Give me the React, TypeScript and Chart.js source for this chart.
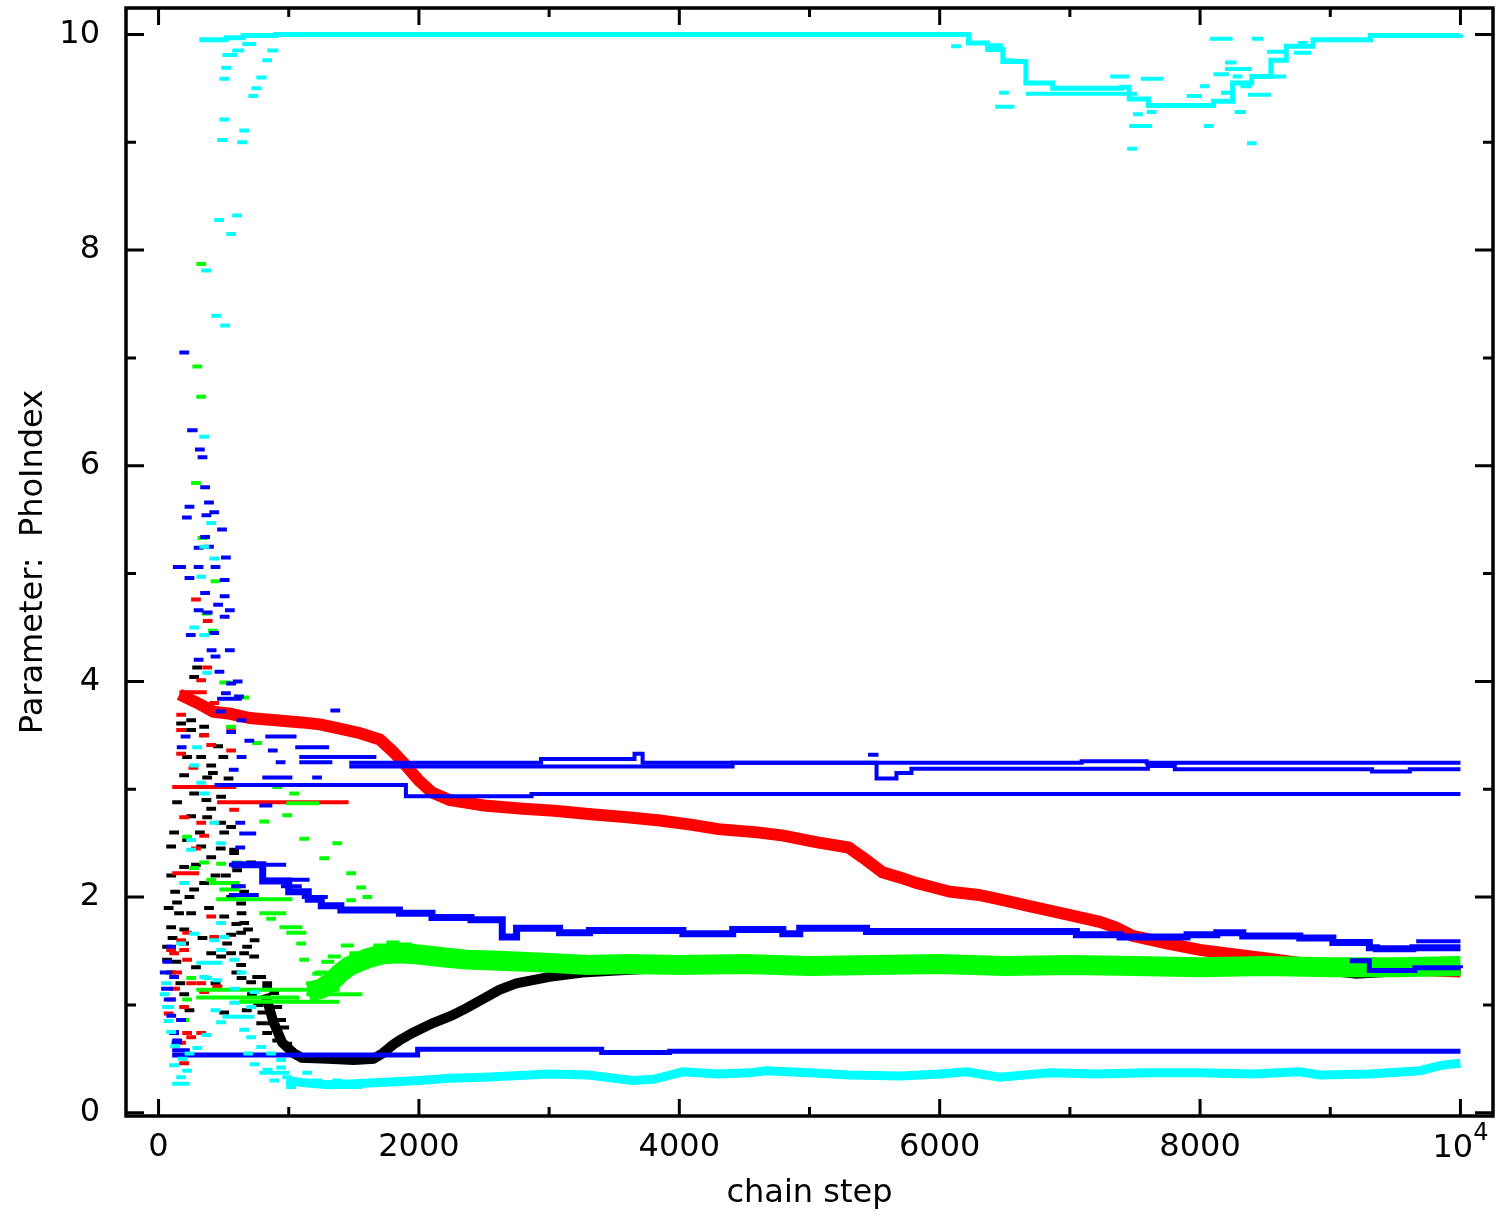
import { useEffect, useRef } from 'react';
import { Chart, registerables } from 'chart.js';

Chart.register(...registerables);

// ---- axes ----
const X_MIN = -250;
const X_MAX = 10250;
const Y_MIN = -0.03;
const Y_MAX = 10.245;
const xMajorTicks = [0, 2000, 4000, 6000, 8000, 10000];
const xMinorTicks = [1000, 3000, 5000, 7000, 9000];
const yMajorTicks = [0, 2, 4, 6, 8, 10];
const yMinorTicks = [1, 3, 5, 7, 9];
const xTitle = 'chain step';
const yTitle = 'Parameter:  PhoIndex';

// ---- main chain traces: [step, value] ----
const redChain: [number, number][] = [
  [160, 3.88], [300, 3.8], [420, 3.72], [550, 3.7], [700, 3.66], [900, 3.64], [1100, 3.62], [1250, 3.6],
  [1400, 3.56], [1550, 3.52], [1700, 3.46], [1800, 3.35], [1900, 3.22], [2000, 3.08], [2100, 2.97],
  [2234, 2.9], [2500, 2.85], [2800, 2.82], [3040, 2.8], [3300, 2.77], [3600, 2.74], [3851, 2.71],
  [4100, 2.67], [4300, 2.63], [4600, 2.6], [4800, 2.57], [5050, 2.51], [5300, 2.46], [5440, 2.34],
  [5560, 2.23], [5700, 2.18], [5823, 2.13], [6077, 2.05], [6300, 2.02], [6461, 1.98], [6715, 1.91],
  [6975, 1.84], [7229, 1.77], [7350, 1.72], [7482, 1.64], [7744, 1.57], [7997, 1.51], [8251, 1.47],
  [8512, 1.43], [8766, 1.39], [9150, 1.36], [9534, 1.33], [10000, 1.31],
];
const blackChain: [number, number][] = [
  [820, 1.1], [880, 0.85], [950, 0.65], [1040, 0.55], [1100, 0.51], [1300, 0.5], [1500, 0.49],
  [1650, 0.5], [1720, 0.55], [1800, 0.63], [1849, 0.67], [1950, 0.74], [2103, 0.83], [2250, 0.9],
  [2365, 0.97], [2500, 1.06], [2618, 1.14], [2749, 1.2], [3002, 1.26], [3255, 1.3], [3516, 1.32],
  [4000, 1.35], [4500, 1.34], [5000, 1.35], [5500, 1.33], [6000, 1.35], [6500, 1.36], [7000, 1.34],
  [7500, 1.35], [8000, 1.34], [8500, 1.33], [8900, 1.33], [9200, 1.29], [9500, 1.31], [10000, 1.32],
];
const greenChain: [number, number][] = [
  [1150, 1.12], [1250, 1.15], [1330, 1.22], [1400, 1.3], [1465, 1.36], [1600, 1.43], [1719, 1.47],
  [1850, 1.48], [1980, 1.47], [2200, 1.44], [2365, 1.42], [2618, 1.41], [3000, 1.39], [3300, 1.37],
  [3600, 1.38], [4000, 1.37], [4500, 1.38], [5000, 1.36], [5500, 1.37], [6000, 1.38], [6500, 1.36],
  [7000, 1.37], [7500, 1.36], [8000, 1.35], [8500, 1.36], [9000, 1.35], [9500, 1.35], [10000, 1.36],
];
const cyanLowChain: [number, number][] = [
  [980, 0.3], [1100, 0.28], [1300, 0.26], [1500, 0.27], [1700, 0.28], [2000, 0.3], [2234, 0.32],
  [2500, 0.33], [3000, 0.36], [3300, 0.35], [3640, 0.3], [3800, 0.31], [4027, 0.38], [4300, 0.36],
  [4540, 0.37], [4670, 0.39], [5000, 0.37], [5308, 0.35], [5700, 0.34], [6000, 0.36], [6206, 0.38],
  [6461, 0.33], [6845, 0.37], [7200, 0.36], [7600, 0.37], [7997, 0.37], [8400, 0.36], [8766, 0.38],
  [8920, 0.35], [9300, 0.36], [9688, 0.39], [9850, 0.44], [10000, 0.46],
];
const cyanTopChain: [number, number][] = [
  [313, 9.95], [520, 9.97], [650, 9.99], [900, 10.0], [6103, 10.0], [6221, 9.92], [6368, 9.86],
  [6485, 9.75], [6662, 9.55], [6868, 9.5], [7162, 9.5], [7397, 9.51], [7456, 9.4], [7603, 9.34],
  [7897, 9.34], [8103, 9.38], [8250, 9.55], [8397, 9.61], [8544, 9.76], [8662, 9.89], [8868, 9.95],
  [9309, 9.99], [10000, 10.0],
];
const blueTopChain: [number, number][] = [
  [1465, 3.245], [2938, 3.28], [3656, 3.33], [3718, 3.245], [7090, 3.26], [7590, 3.245], [10000, 3.245],
];
const blueSecondChain: [number, number][] = [
  [1465, 3.21], [4409, 3.245], [5515, 3.1], [5668, 3.15], [5783, 3.19], [7599, 3.215], [7806, 3.185],
  [9321, 3.165], [9611, 3.185], [10000, 3.185],
];
const blueMidChain: [number, number][] = [
  [430, 3.04], [1900, 2.935], [2865, 2.955], [10000, 2.955],
];
const blueDescChain: [number, number][] = [
  [560, 2.3], [800, 2.15], [1000, 2.05], [1150, 1.98], [1250, 1.92], [1400, 1.88], [1850, 1.85],
  [2100, 1.81], [2400, 1.79], [2640, 1.63], [2750, 1.71], [3080, 1.67], [3310, 1.69], [4027, 1.66],
  [4410, 1.7], [4795, 1.66], [4925, 1.71], [5438, 1.68], [7050, 1.65], [7385, 1.63], [7900, 1.65],
  [8128, 1.67], [8328, 1.64], [8766, 1.62], [9020, 1.58], [9300, 1.53], [9355, 1.52], [9635, 1.53],
  [10000, 1.53],
];
const blueUpperEndChain: [number, number][] = [[9660, 1.59], [10000, 1.59]];
const blueLowerEndChain: [number, number][] = [[9150, 1.41], [9300, 1.32], [9650, 1.345], [10000, 1.34]];
const blueBottomChain: [number, number][] = [
  [105, 0.535], [1990, 0.59], [3404, 0.56], [3926, 0.57], [10000, 0.57],
];

// ---- burn-in marks: [fromStep, toStep, value] ----
const blackMarks: [number, number, number][] = [
  [236, 290, 4.04], [136, 190, 3.61], [213, 260, 3.55], [213, 260, 3.64], [313, 360, 3.5], [313, 360, 3.58],
  [259, 310, 4.13], [290, 340, 3.3], [182, 230, 3.3], [367, 420, 3.22], [336, 380, 3.11], [159, 210, 3.13],
  [413, 460, 3.02], [236, 280, 2.96], [105, 150, 2.88], [443, 490, 2.93], [367, 410, 2.82], [213, 260, 2.75],
  [336, 380, 2.74], [443, 490, 2.69], [467, 510, 2.6], [82, 130, 2.6], [520, 570, 2.65], [182, 230, 2.53],
  [290, 340, 2.47], [59, 110, 2.47], [543, 600, 2.44], [367, 410, 2.37], [543, 590, 2.41], [674, 730, 2.32],
  [159, 210, 2.28], [566, 620, 2.25], [236, 280, 2.07], [313, 360, 2.13], [560, 610, 2.1], [597, 650, 1.94],
  [105, 150, 1.95], [213, 260, 1.85], [600, 650, 1.85], [620, 670, 1.76], [467, 510, 1.82], [59, 110, 1.72],
  [159, 210, 1.57], [490, 540, 1.57], [597, 650, 1.67], [28, 80, 1.54], [59, 110, 1.3], [28, 80, 1.42],
  [520, 570, 1.48], [620, 670, 1.48], [597, 650, 1.37], [643, 690, 1.54], [697, 750, 1.45], [720, 770, 1.26],
  [751, 800, 1.26], [797, 850, 1.2], [797, 850, 1.17], [674, 730, 1.21], [443, 490, 1.45], [367, 440, 1.48],
  [400, 450, 1.2], [467, 510, 0.93], [851, 900, 1.11], [874, 920, 0.98], [751, 800, 0.83], [827, 880, 0.83],
  [797, 850, 0.74], [874, 920, 0.67], [904, 950, 0.86], [928, 970, 0.79], [951, 1000, 0.64], [981, 1030, 0.58],
  [60, 120, 2.2], [90, 150, 2.05], [120, 180, 1.85], [160, 220, 1.7], [200, 260, 2.0], [250, 300, 2.3],
  [280, 330, 2.6], [330, 390, 2.9], [380, 430, 3.15], [420, 470, 3.4], [460, 510, 3.3], [500, 550, 3.1],
  [440, 500, 2.45], [480, 530, 2.2], [520, 570, 2.0], [560, 610, 1.75], [520, 560, 1.65], [40, 90, 1.9],
  [70, 120, 1.62], [100, 150, 1.4], [130, 180, 1.2], [160, 220, 1.1], [200, 250, 0.95], [250, 300, 1.35],
  [300, 350, 1.62], [350, 400, 1.9], [400, 450, 2.2], [620, 670, 2.05], [650, 700, 1.7], [700, 750, 1.6],
  [680, 730, 1.1], [730, 780, 1.0], [760, 810, 0.93], [600, 650, 1.25], [560, 600, 1.3], [640, 690, 0.95],
];
const redMarks: [number, number, number][] = [
  [160, 370, 3.9], [290, 340, 4.01], [336, 390, 4.13], [250, 300, 4.76], [340, 390, 4.56], [390, 450, 3.8],
  [490, 550, 3.73], [136, 190, 3.69], [136, 180, 3.55], [520, 570, 3.57], [313, 370, 3.5], [367, 410, 3.41],
  [136, 190, 3.33], [520, 570, 3.36], [105, 597, 3.02], [450, 1460, 2.88], [543, 590, 2.81], [159, 210, 2.74],
  [290, 350, 2.69], [313, 360, 2.57], [105, 313, 2.22], [136, 190, 1.6], [367, 410, 1.82], [182, 230, 1.67],
  [390, 440, 1.63], [59, 110, 1.51], [159, 210, 1.51], [82, 130, 1.48], [182, 230, 1.42], [105, 150, 1.3],
  [290, 340, 1.2], [213, 260, 1.2], [413, 490, 1.17], [313, 367, 1.12], [159, 210, 0.98], [136, 180, 0.86],
  [182, 230, 0.74], [290, 330, 0.74], [213, 259, 0.7], [136, 180, 0.65], [159, 210, 0.46],
  [60, 110, 1.05], [90, 140, 1.15], [40, 90, 0.92], [250, 300, 2.45], [230, 280, 3.2],
];
const greenMarks: [number, number, number][] = [
  [290, 330, 7.87], [260, 300, 6.92], [290, 320, 6.64], [250, 290, 5.84], [300, 330, 5.33], [400, 440, 4.93],
  [330, 370, 4.63], [380, 420, 4.47], [467, 560, 3.99], [620, 670, 3.85], [520, 570, 3.58], [720, 770, 3.43],
  [874, 920, 3.02], [1004, 1050, 2.96], [981, 1235, 2.87], [774, 830, 2.7], [951, 1000, 2.76], [1081, 1130, 2.54],
  [1335, 1380, 2.5], [182, 230, 2.56], [1235, 1280, 2.36], [313, 360, 2.32], [443, 490, 2.31], [566, 610, 2.32],
  [236, 290, 2.27], [1442, 1490, 2.22], [367, 410, 2.16], [390, 620, 2.13], [467, 620, 2.07], [1519, 1570, 2.09],
  [1566, 1610, 2.0], [443, 1028, 1.98], [1442, 1490, 1.97], [774, 981, 1.85], [827, 880, 1.8], [928, 1104, 1.72],
  [981, 1135, 1.67], [1058, 1110, 1.57], [1081, 1130, 1.42], [1596, 1650, 1.51], [1465, 1510, 1.48],
  [1181, 1230, 1.29], [1389, 1440, 1.35], [1542, 1590, 1.35], [1335, 1380, 1.23], [1135, 1180, 1.2],
  [290, 1389, 1.14], [290, 1081, 1.07], [620, 1389, 1.03], [1135, 1566, 1.1], [159, 210, 0.86], [213, 270, 1.25],
  [182, 230, 1.05], [1200, 1300, 1.3], [1250, 1350, 1.4], [1300, 1400, 1.45], [1400, 1500, 1.55],
  [1650, 1750, 1.55], [1750, 1850, 1.58], [1850, 1950, 1.56],
];
const blueMarks: [number, number, number][] = [
  [160, 210, 7.05], [220, 300, 6.33], [280, 330, 6.15], [300, 350, 6.08], [320, 370, 5.8], [350, 400, 5.66],
  [200, 250, 5.62], [390, 440, 5.57], [180, 230, 5.52], [330, 380, 5.54], [450, 500, 5.41], [320, 370, 5.34],
  [270, 320, 5.24], [350, 420, 5.25], [480, 530, 5.15], [110, 210, 5.06], [400, 460, 5.06], [270, 320, 5.06],
  [200, 250, 4.96], [470, 520, 4.94], [320, 370, 4.82], [470, 520, 4.79], [420, 470, 4.71], [270, 320, 4.66],
  [510, 560, 4.66], [340, 390, 4.64], [470, 520, 4.6], [210, 260, 4.43], [390, 440, 4.45], [370, 420, 4.29],
  [510, 560, 4.29], [400, 450, 4.23], [270, 320, 4.2], [430, 480, 4.09], [570, 640, 4.0], [520, 570, 3.98],
  [580, 630, 3.86], [450, 640, 3.84], [480, 530, 3.89], [440, 490, 3.72], [1320, 1370, 3.73], [600, 650, 3.64],
  [520, 570, 3.53], [820, 1060, 3.49], [170, 220, 3.49], [660, 720, 3.45], [1050, 1310, 3.39], [140, 190, 3.39],
  [840, 900, 3.36], [1081, 1673, 3.3], [600, 650, 3.3], [900, 960, 3.25], [1081, 1335, 3.25], [540, 590, 3.18],
  [860, 920, 3.11], [797, 1028, 3.11], [1180, 1240, 3.11], [774, 874, 2.85], [590, 640, 2.69], [620, 750, 2.59],
  [590, 640, 2.46], [540, 980, 2.3], [800, 1160, 2.16], [560, 670, 2.1], [940, 1100, 2.1], [540, 770, 2.02],
  [1100, 1300, 2.0], [5450, 5530, 3.32], [10, 100, 1.3], [20, 110, 1.15], [40, 130, 1.05], [30, 90, 1.4],
  [60, 120, 0.9], [80, 140, 0.75], [100, 160, 0.65], [59, 110, 1.54], [82, 130, 1.26], [136, 180, 0.86],
  [82, 130, 0.74], [105, 150, 0.67], [105, 240, 0.58],
];
const cyanMarks: [number, number, number][] = [
  [490, 605, 9.81], [566, 658, 9.85], [643, 750, 9.91], [835, 920, 9.85], [797, 850, 9.76], [482, 530, 9.69],
  [467, 510, 9.59], [751, 830, 9.6], [713, 760, 9.5], [690, 730, 9.43], [467, 510, 9.21], [620, 690, 9.11],
  [451, 490, 9.02], [605, 650, 9.0], [428, 470, 8.28], [566, 620, 8.32], [520, 566, 8.15], [328, 370, 7.81],
  [405, 450, 7.39], [474, 540, 7.3], [313, 360, 6.27], [367, 410, 5.47], [390, 440, 5.14], [290, 330, 4.97],
  [236, 290, 4.5], [313, 360, 4.43], [313, 350, 5.25],
  [336, 380, 4.08], [259, 310, 3.39], [236, 280, 3.22], [290, 330, 3.06], [313, 360, 2.96], [390, 440, 2.69],
  [213, 260, 2.53], [443, 490, 2.5], [213, 260, 2.44], [159, 210, 2.13], [443, 490, 1.76], [236, 290, 1.66],
  [467, 510, 1.63], [390, 440, 1.6], [136, 190, 1.57], [543, 590, 1.42], [313, 360, 1.26],
  [28, 120, 0.98], [10, 80, 1.1], [20, 100, 1.2], [40, 110, 0.85], [290, 490, 1.39], [443, 500, 1.51],
  [413, 460, 1.23], [336, 380, 1.25], [543, 620, 1.02], [674, 751, 0.98], [490, 735, 0.89], [443, 490, 0.84],
  [620, 670, 0.77], [674, 740, 0.7], [751, 800, 0.61], [827, 880, 0.55], [904, 950, 0.49], [82, 130, 0.44],
  [182, 230, 0.39], [136, 180, 0.33], [105, 236, 0.27], [774, 1004, 0.37], [851, 900, 0.3], [981, 1040, 0.24],
  [904, 950, 0.42], [1104, 1150, 0.37], [1181, 1230, 0.3], [1312, 1566, 0.24], [1335, 1390, 0.3],
  [60, 130, 0.75], [90, 150, 0.62], [150, 200, 0.5], [200, 260, 0.55], [260, 330, 0.6], [330, 400, 0.72],
  [400, 470, 0.95], [550, 620, 1.15], [600, 670, 1.3], [700, 760, 1.12], [650, 720, 0.55], [700, 770, 0.45],
  [800, 860, 0.4], [950, 1000, 0.33],
  [6088, 6162, 9.89], [6368, 6485, 9.9], [6426, 6574, 9.33], [6456, 6500, 9.46], [6485, 6574, 9.76],
  [6662, 7515, 9.45], [7309, 7456, 9.61], [7544, 7721, 9.59], [7456, 7632, 9.15], [7440, 7480, 8.94],
  [7485, 7530, 9.26], [7590, 7630, 9.28], [7897, 8015, 9.43], [8000, 8040, 9.52], [8030, 8070, 9.15],
  [8074, 8250, 9.96], [8103, 8221, 9.63], [8160, 8200, 9.46], [8191, 8280, 9.74], [8191, 8397, 9.68],
  [8250, 8310, 9.61], [8265, 8353, 9.28], [8310, 8397, 9.52], [8360, 8400, 8.99], [8368, 8544, 9.44],
  [8397, 8485, 9.96], [8427, 8662, 9.61], [8515, 8662, 9.84], [8721, 8853, 9.83], [8750, 8790, 9.92],
];

const FONT = '"DejaVu Sans", "Liberation Sans", sans-serif';
const BLACK = '#000000';
const RED = '#ff0000';
const GREEN = '#00ff00';
const BLUE = '#0000ff';
const CYAN = '#00ffff';
const MIN_MARK_STEPS = 75; // smallest drawn mark length (style)

const toPoints = (pairs: [number, number][]) => pairs.map(([x, y]) => ({ x, y }));
const toMarks = (marks: [number, number, number][]) => {
  const out: { x: number; y: number | null }[] = [];
  for (const [a, b, v] of marks) {
    const end = Math.max(b, a + MIN_MARK_STEPS);
    out.push({ x: a, y: v }, { x: end, y: v }, { x: end, y: null });
  }
  return out;
};

const lineDs = (label: string, data: any[], color: string, width: number, order: number, stepped = false) => ({
  label,
  data,
  borderColor: color,
  backgroundColor: color,
  borderWidth: width,
  pointRadius: 0,
  pointHoverRadius: 0,
  fill: false,
  tension: 0,
  stepped,
  spanGaps: false,
  borderCapStyle: 'butt' as const,
  borderJoinStyle: 'miter' as const,
  order,
});

const frameTicksPlugin = {
  id: 'frameTicks',
  afterDraw(chart: any) {
    const { ctx, chartArea: a, scales } = chart;
    const xs = scales.x;
    const ys = scales.y;
    ctx.save();
    ctx.strokeStyle = '#000';
    ctx.lineCap = 'butt';
    ctx.lineWidth = 3;
    ctx.beginPath();
    const tick = (x1: number, y1: number, x2: number, y2: number) => {
      ctx.moveTo(x1, y1);
      ctx.lineTo(x2, y2);
    };
    for (const v of xMajorTicks) {
      const p = xs.getPixelForValue(v);
      tick(p, a.bottom, p, a.bottom - 17);
      tick(p, a.top, p, a.top + 17);
    }
    for (const v of xMinorTicks) {
      const p = xs.getPixelForValue(v);
      tick(p, a.bottom, p, a.bottom - 9);
      tick(p, a.top, p, a.top + 9);
    }
    for (const v of yMajorTicks) {
      const p = ys.getPixelForValue(v);
      tick(a.left, p, a.left + 18, p);
      tick(a.right, p, a.right - 18, p);
    }
    for (const v of yMinorTicks) {
      const p = ys.getPixelForValue(v);
      tick(a.left, p, a.left + 10, p);
      tick(a.right, p, a.right - 10, p);
    }
    ctx.stroke();
    ctx.lineWidth = 3.5;
    ctx.strokeRect(a.left, a.top, a.right - a.left, a.bottom - a.top);

    // "10^4" label at the last x tick
    const last = xMajorTicks[xMajorTicks.length - 1];
    const px = xs.getPixelForValue(last);
    ctx.fillStyle = '#000';
    ctx.textAlign = 'left';
    ctx.textBaseline = 'alphabetic';
    ctx.font = `32px ${FONT}`;
    const w10 = ctx.measureText('10').width;
    ctx.font = `24px ${FONT}`;
    const w4 = ctx.measureText('4').width;
    const start = px - (w10 + w4) / 2;
    const base = a.bottom + 41;
    ctx.font = `32px ${FONT}`;
    ctx.fillText('10', start, base);
    ctx.font = `24px ${FONT}`;
    ctx.fillText('4', start + w10, base - 17);
    ctx.restore();
  },
};

export default function App() {
  const ref = useRef<HTMLCanvasElement | null>(null);

  useEffect(() => {
    if (!ref.current) return;
    const datasets = [
      lineDs('cyan top', toPoints(cyanTopChain), CYAN, 5, 1, true),
      lineDs('cyan low', toPoints(cyanLowChain), CYAN, 9, 1),
      lineDs('cyan marks', toMarks(cyanMarks), CYAN, 4, 1),
      lineDs('blue top', toPoints(blueTopChain), BLUE, 4, 2, true),
      lineDs('blue second', toPoints(blueSecondChain), BLUE, 4, 2, true),
      lineDs('blue mid', toPoints(blueMidChain), BLUE, 4, 2, true),
      lineDs('blue desc', toPoints(blueDescChain), BLUE, 7, 2, true),
      lineDs('blue upper end', toPoints(blueUpperEndChain), BLUE, 4, 2, true),
      lineDs('blue lower end', toPoints(blueLowerEndChain), BLUE, 5, 2, true),
      lineDs('blue bottom', toPoints(blueBottomChain), BLUE, 5, 2, true),
      lineDs('blue marks', toMarks(blueMarks), BLUE, 4, 2),
      lineDs('green', toPoints(greenChain), GREEN, 20, 3),
      lineDs('green marks', toMarks(greenMarks), GREEN, 4, 3),
      lineDs('red', toPoints(redChain), RED, 12, 4),
      lineDs('red marks', toMarks(redMarks), RED, 4, 4),
      lineDs('black', toPoints(blackChain), BLACK, 10, 5),
      lineDs('black marks', toMarks(blackMarks), BLACK, 4, 5),
    ];

    const chart = new Chart(ref.current, {
      type: 'line',
      data: { datasets: datasets as any },
      options: {
        responsive: false,
        animation: false,
        events: [],
        layout: { padding: { top: 8, right: 8, left: 0, bottom: 0 } },
        plugins: {
          legend: { display: false },
          tooltip: { enabled: false },
          title: { display: false },
        },
        scales: {
          x: {
            type: 'linear',
            min: X_MIN,
            max: X_MAX,
            grid: { display: false, drawTicks: false },
            border: { display: false },
            afterBuildTicks: (s: any) => {
              s.ticks = xMajorTicks.map((v) => ({ value: v }));
            },
            afterFit: (s: any) => {
              s.height = 100;
              s.paddingLeft = 0;
              s.paddingRight = 0;
              s.paddingTop = 0;
              s.paddingBottom = 0;
            },
            ticks: {
              autoSkip: false,
              maxRotation: 0,
              minRotation: 0,
              padding: 12,
              color: '#000',
              font: { family: FONT, size: 32 },
              callback: (v: any) => (v === xMajorTicks[xMajorTicks.length - 1] ? '' : String(v)),
            },
            title: {
              display: true,
              text: xTitle,
              color: '#000',
              font: { family: FONT, size: 32 },
              padding: { top: 0, bottom: 3 },
            },
          },
          y: {
            type: 'linear',
            min: Y_MIN,
            max: Y_MAX,
            grid: { display: false, drawTicks: false },
            border: { display: false },
            afterBuildTicks: (s: any) => {
              s.ticks = yMajorTicks.map((v) => ({ value: v }));
            },
            afterFit: (s: any) => {
              s.width = 126;
              s.paddingTop = 0;
              s.paddingBottom = 0;
              s.paddingLeft = 0;
              s.paddingRight = 0;
            },
            ticks: {
              autoSkip: false,
              padding: 26,
              color: '#000',
              font: { family: FONT, size: 32 },
              callback: (v: any) => String(v),
            },
            title: {
              display: true,
              text: yTitle,
              color: '#000',
              font: { family: FONT, size: 32 },
              padding: { top: 14, bottom: 0 },
            },
          },
        },
      },
      plugins: [frameTicksPlugin],
    });
    return () => chart.destroy();
  }, []);

  return (
    <div style={{ position: 'absolute', left: 0, top: 0, width: 1501, height: 1216, background: '#fff' }}>
      <canvas ref={ref} width={1501} height={1216} style={{ display: 'block' }} />
    </div>
  );
}
